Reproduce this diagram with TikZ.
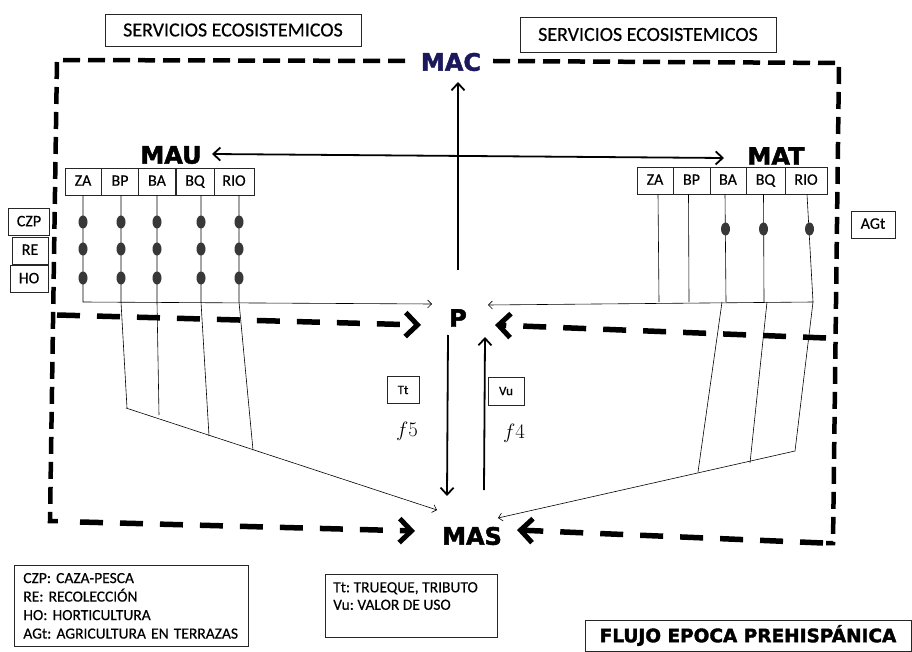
\documentclass[tikz,border=0pt]{standalone}
\usepackage{fontspec}
\setmainfont{Carlito}[FakeBold=0.4]
\newfontfamily\blk{DejaVu Sans}[BoldFeatures={FakeBold=2}]
\usetikzlibrary{arrows.meta,shapes.geometric}
\definecolor{navy}{RGB}{28,24,92}
\frenchspacing
\begin{document}
\begin{tikzpicture}[x=1pt,y=-1pt,
 box/.style={draw=black!85,line width=0.7pt,inner sep=0pt,align=center},
 sbox/.style={box,font=\fontsize{16}{16}\selectfont,minimum height=27pt,text height=10.5pt,text depth=2pt},
 big/.style={font=\blk\bfseries\fontsize{24}{24}\selectfont,inner sep=1pt},
 frame/.style={line width=4.5pt,dash pattern=on 17pt off 8pt},
 mid/.style={line width=5.5pt,dash pattern=on 23pt off 17pt},
 chev/.style={-{Straight Barb[length=12pt,width=24pt,line width=5pt]}},
 thin/.style={line width=0.6pt},
 thinarr/.style={thin,-{Straight Barb[length=4pt,width=8pt,line width=0.6pt]}},
 flow/.style={line width=1.8pt,-{Straight Barb[length=7pt,width=13pt]}},
 dot/.style={ellipse,fill=black!78,minimum width=9pt,minimum height=13pt,inner sep=0pt}
]
\useasboundingbox[fill=white] (0,0) rectangle (912,652);

% titles
\node[box,minimum width=256pt,minimum height=32pt,font=\fontsize{20}{20}\selectfont] (se1) at (233,30) {SERVICIOS ECOSISTEMICOS};
\node[box,minimum width=256pt,minimum height=35pt,font=\fontsize{20}{20}\selectfont] (se2) at (648,34.5) {SERVICIOS ECOSISTEMICOS};

% main nodes
\node[big,text=navy] (MAC) at (451,62) {MAC};
\node[big] (MAU) at (171,155) {MAU};
\node[big] (MAT) at (776,156) {MAT};
\node[big] (P) at (458,318) {P};
\node[big] (MAS) at (472,536) {MAS};

% frame
\draw[frame] (405,61) -- (57,60) -- (50,521) -- (64,521);
\coordinate (Ml) at (415,531);
\draw[mid,chev] (80,522) -- (Ml);
\draw[frame] (493,61) -- (839,63) -- (833,543) -- (826,543);
\coordinate (Mr) at (517,530);
\draw[mid,chev] (823,543) -- (Mr);
\coordinate (Pl) at (421,325);
\coordinate (Pr) at (495,325);
\draw[mid,chev] (57,315) -- (Pl);
\draw[mid,chev] (826,338) -- (Pr);

% flows
\coordinate (MACin) at (458,82);
\coordinate (Pup) at (458,270);
\draw[flow] (Pup) -- (MACin);
\coordinate (MAUin) at (212,154);
\coordinate (MATin) at (724,158);
\draw[line width=1.8pt,{Straight Barb[length=7pt,width=13pt]}-{Straight Barb[length=7pt,width=13pt]}] (MAUin) -- (MATin);
\coordinate (Pdown) at (448,335);
\coordinate (MASin) at (447,496);
\draw[flow] (Pdown) -- (MASin);
\coordinate (MASout) at (484,490);
\coordinate (Pin) at (485,337);
\draw[flow] (MASout) -- (Pin);

\node[box,minimum width=32pt,minimum height=27pt,font=\fontsize{13}{13}\selectfont] (Tt) at (403,390) {Tt};
\node[box,minimum width=36pt,minimum height=28pt,font=\fontsize{13}{13}\selectfont] (Vu) at (506,391) {Vu};
\node[font=\fontsize{22}{22}\selectfont] (f5) at (407,431) {$f5$};
\node[font=\fontsize{22}{22}\selectfont] (f4) at (514,433) {$f4$};

% MAU side
\node[sbox,minimum width=36pt] (uZA) at (83,181.5) {ZA};
\node[sbox,minimum width=37pt] (uBP) at (120,181.5) {BP};
\node[sbox,minimum width=37pt] (uBA) at (157,181.5) {BA};
\node[sbox,minimum width=38pt] (uBQ) at (195,181.5) {BQ};
\node[sbox,minimum width=40pt] (uRIO) at (234,181.5) {RIO};

\node[sbox,minimum width=41pt] (CZP) at (29,222) {CZP};
\node[sbox,minimum width=36pt] (RE) at (30,250.5) {RE};
\node[sbox,minimum width=38pt] (HO) at (29,279) {HO};

\coordinate (Pul) at (432,304);
\draw[thinarr] (uZA.south) -- (83,302) -- (Pul);
\draw[thin] ([xshift=1pt]uBP.south) -- (121,302) -- (127,408);
\draw[thin] (uBA.south) -- (157,302) -- (159,415);
\draw[thin] ([xshift=6pt]uBQ.south) -- (201,302) -- (209,436);
\draw[thin] ([xshift=5pt]uRIO.south) -- (239,302) -- (253,450);
\coordinate (Msl) at (437,510);
\draw[thinarr] (126,408) -- (Msl);
\foreach \x in {83,121,157,201,239}{
  \foreach \y in {222,249,278}{
    \node[dot] at (\x,\y) {};
  }
}

% MAT side
\node[sbox,minimum width=36pt] (tZA) at (655,180.5) {ZA};
\node[sbox,minimum width=37pt] (tBP) at (691.5,180.5) {BP};
\node[sbox,minimum width=36pt] (tBA) at (728,180.5) {BA};
\node[sbox,minimum width=39pt] (tBQ) at (765.5,180.5) {BQ};
\node[sbox,minimum width=42pt] (tRIO) at (806,180.5) {RIO};
\node[sbox,minimum width=44pt] (AGt) at (873,224.5) {AGt};

\draw[thin] ([xshift=3pt]tZA.south) -- (659,302);
\draw[thin] ([xshift=-3pt]tBP.south) -- (689,302);
\draw[thin] ([xshift=-3pt]tBA.south) -- (726,302);
\draw[thin] ([xshift=-2pt]tBQ.south) -- (764,302);
\draw[thin] ([xshift=1pt]tRIO.south) -- (813,302);
\coordinate (Pur) at (488,305);
\draw[thinarr] (813,302) -- (Pur);
\draw[thin] (722,302) -- (698,472);
\draw[thin] (767,302) -- (750,463);
\coordinate (Msr) at (498,518);
\draw[thinarr] (813,302) -- (795,451) -- (Msr);
\foreach \x in {725.5,763.5,809.5}{
  \node[dot] at (\x,229) {};
}

% legends
\node[box,anchor=north west,minimum width=234pt,minimum height=81pt,text width=216pt,align=left,font=\fontsize{15.5}{18.5}\selectfont] (leg1) at (14,565)
 {CZP: CAZA-PESCA\\RE: RECOLECCIÓN\\HO: HORTICULTURA\\AGt: AGRICULTURA EN TERRAZAS};
\node[box,anchor=north west,minimum width=172pt,minimum height=63pt] (leg2) at (325,574) {};
\node[anchor=north west,inner sep=0pt,align=left,font=\fontsize{15.5}{17.5}\selectfont] (leg2t) at (333,582)
 {Tt: TRUEQUE, TRIBUTO\\Vu: VALOR DE USO};
\node[box,minimum width=326pt,minimum height=31pt,font=\blk\bfseries\fontsize{18.5}{18.5}\selectfont] (title) at (748,635.5) {FLUJO EPOCA PREHISPÁNICA};
\end{tikzpicture}
\end{document}
